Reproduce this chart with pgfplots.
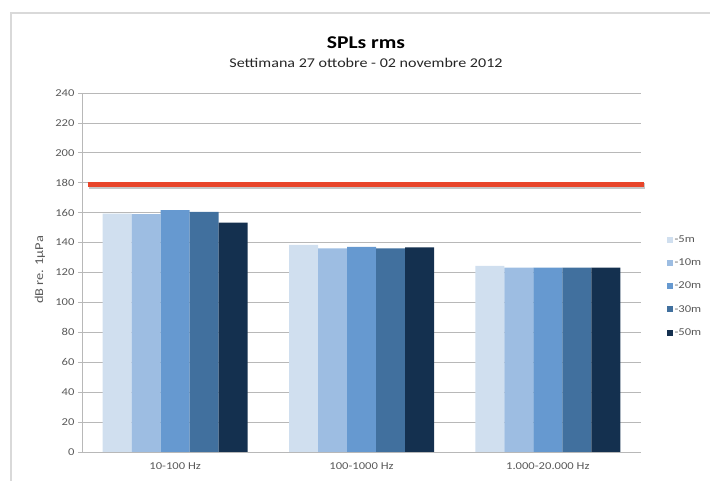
\documentclass[border=0pt]{standalone}
\usepackage{pgfplots}
\pgfplotsset{compat=1.18}
\usepackage{fontspec}
\setmainfont{Carlito}[FakeStretch=1.2]
\definecolor{cA}{HTML}{D0DFEF}
\definecolor{cB}{HTML}{9DBDE2}
\definecolor{cC}{HTML}{6699D0}
\definecolor{cD}{HTML}{41709E}
\definecolor{cE}{HTML}{14304F}
\definecolor{redline}{HTML}{E8452A}
\definecolor{gridc}{HTML}{B8B8B8}
\definecolor{txt}{HTML}{595959}
\pgfplotsset{sq/.style={legend image code/.code={\fill[##1] (0pt,-3pt) rectangle (6pt,3pt);}}}
\begin{document}
\begin{tikzpicture}
\useasboundingbox (0pt,0pt) rectangle (710pt,481pt);
\draw[color=black!15, line width=1.5pt] (11pt,-20pt) rectangle (730pt,468pt);
\node[font=\fontsize{18}{20}\selectfont\bfseries] at (366pt,438pt) {SPLs rms};
\node[font=\fontsize{13.4}{15}\selectfont, text=black!85] at (366pt,418pt) {Settimana 27 ottobre - 02 novembre 2012};
\node[font=\fontsize{12}{14}\selectfont, text=txt, rotate=90] at (40pt,211pt) {dB re. 1μPa};
\begin{axis}[
  at={(82pt,29pt)}, anchor=south west,
  width=559pt, height=359pt, scale only axis,
  ybar=0pt, bar width=29pt,
  xmin=-0.5, xmax=2.5, ymin=0, ymax=240,
  ytick={0,20,...,240},
  xtick=data, xticklabels={10-100 Hz,100-1000 Hz,1.000-20.000 Hz},
  axis x line*=bottom, axis y line*=left,
  axis line style={gridc, line width=0.8pt, -},
  ymajorgrids, grid style={gridc, line width=0.8pt},
  major tick length=4pt, tick align=outside,
  ytick style={gridc, line width=0.8pt}, xtick style={draw=none},
  ticklabel style={font=\fontsize{10.5}{12}\selectfont, text=txt},
  xticklabel style={yshift=-3pt},
  /pgf/number format/assume math mode=true,
  clip=false,
  legend style={draw=none, fill=none, at={(1.04,0.462)}, anchor=west,
    font=\fontsize{10.5}{12}\selectfont, text=txt, row sep=11pt,
    /tikz/every even column/.append style={column sep=2pt}},
  legend cell align=left,
]
\addplot[fill=cA, draw=none, sq] coordinates {(0,159.3) (1,138.4) (2,124.4)};
\addplot[fill=cB, draw=none, sq] coordinates {(0,159.0) (1,136.1) (2,123.3)};
\addplot[fill=cC, draw=none, sq] coordinates {(0,161.7) (1,137.2) (2,123.3)};
\addplot[fill=cD, draw=none, sq] coordinates {(0,160.6) (1,136.1) (2,123.3)};
\addplot[fill=cE, draw=none, sq] coordinates {(0,153.3) (1,136.8) (2,123.3)};
\legend{-5m,-10m,-20m,-30m,-50m}
\addplot[sharp plot, black, opacity=0.22, line width=6pt, forget plot] coordinates {(-0.465,177.9) (2.52,177.9)};
\addplot[sharp plot, redline, line width=5pt, forget plot] coordinates {(-0.47,178.9) (2.515,178.9)};
\end{axis}
\end{tikzpicture}
\end{document}
